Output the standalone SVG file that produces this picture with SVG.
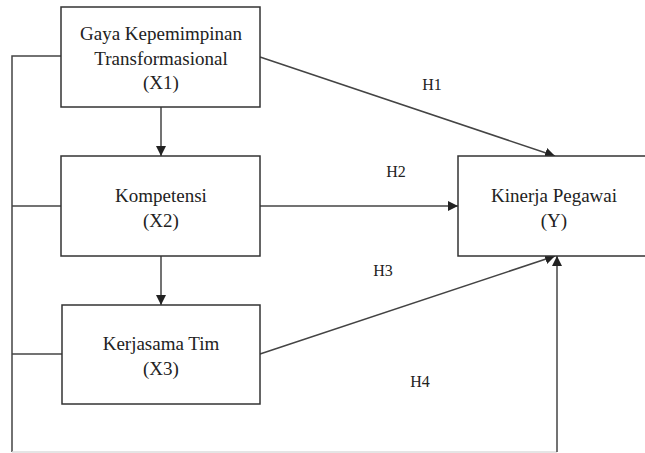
<svg xmlns="http://www.w3.org/2000/svg" width="645" height="453" viewBox="0 0 645 453">
<defs>
<marker id="ah" viewBox="0 0 10 10" refX="10" refY="5" markerWidth="10" markerHeight="10" markerUnits="userSpaceOnUse" orient="auto">
<path d="M0,0 L10,5 L0,10 Z" fill="#222"/>
</marker>
<style>
.box{fill:#fff;stroke:#333;stroke-width:1.5}
.t{font-family:"Liberation Serif","Times New Roman",serif;font-size:19px;fill:#222;text-anchor:middle}
.h{font-family:"Liberation Serif","Times New Roman",serif;font-size:16px;fill:#222;text-anchor:middle}
.c{stroke:#444;stroke-width:1.5;fill:none}
</style>
</defs>
<rect width="645" height="453" fill="#fff"/>
<g id="connectors">
<path class="c" d="M61,56 H12 V452"/>
<path class="c" d="M61,206 H12"/>
<path class="c" d="M62,354 H12"/>
<path d="M12,452 H557" stroke="#ddd" stroke-width="1.5"/>
<path class="c" d="M161,107 V156" marker-end="url(#ah)"/>
<path class="c" d="M161,256 V305" marker-end="url(#ah)"/>
<path class="c" d="M260,57 L555,156" marker-end="url(#ah)"/>
<path class="c" d="M260,206 H458" marker-end="url(#ah)"/>
<path class="c" d="M260,354 L555,256" marker-end="url(#ah)"/>
<path class="c" d="M557,452 V256" marker-end="url(#ah)"/>
</g>
<g id="labels">
<text class="h" x="432" y="90">H1</text>
<text class="h" x="396" y="177">H2</text>
<text class="h" x="383" y="276">H3</text>
<text class="h" x="420" y="387">H4</text>
</g>
<g id="x1">
<rect class="box" x="61" y="7" width="199" height="100"/>
<text class="t" x="161" y="40">Gaya Kepemimpinan</text>
<text class="t" x="161" y="65">Transformasional</text>
<text class="t" x="161" y="89">(X1)</text>
</g>
<g id="x2">
<rect class="box" x="61" y="156" width="199" height="100"/>
<text class="t" x="161" y="202">Kompetensi</text>
<text class="t" x="161" y="227">(X2)</text>
</g>
<g id="x3">
<rect class="box" x="62" y="305" width="198" height="99"/>
<text class="t" x="161" y="350">Kerjasama Tim</text>
<text class="t" x="161" y="375">(X3)</text>
</g>
<g id="y">
<rect class="box" x="458" y="156" width="190" height="100"/>
<text class="t" x="554" y="202">Kinerja Pegawai</text>
<text class="t" x="554" y="227">(Y)</text>
</g>
</svg>
